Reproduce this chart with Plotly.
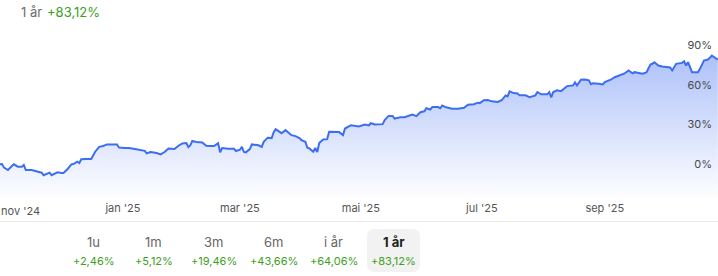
import plotly.graph_objects as go

# ---- data ----
dates = [
    "2024-10-31", "2024-11-01", "2024-11-02", "2024-11-04", "2024-11-06", "2024-11-07", "2024-11-09",
    "2024-11-11", "2024-11-12", "2024-11-13", "2024-11-16", "2024-11-18", "2024-11-21", "2024-11-22",
    "2024-11-24", "2024-11-25", "2024-11-26", "2024-11-27", "2024-11-29", "2024-12-01", "2024-12-02",
    "2024-12-04", "2024-12-06", "2024-12-07", "2024-12-09", "2024-12-10", "2024-12-11", "2024-12-13",
    "2024-12-16", "2024-12-18", "2024-12-20", "2024-12-22", "2024-12-24", "2024-12-29", "2024-12-30",
    "2025-01-02", "2025-01-04", "2025-01-07", "2025-01-09", "2025-01-12", "2025-01-13", "2025-01-15",
    "2025-01-18", "2025-01-20", "2025-01-22", "2025-01-24", "2025-01-27", "2025-01-28", "2025-01-29",
    "2025-01-31", "2025-02-02", "2025-02-03", "2025-02-04", "2025-02-05", "2025-02-07", "2025-02-10",
    "2025-02-12", "2025-02-14", "2025-02-16", "2025-02-18", "2025-02-19", "2025-02-20", "2025-02-23",
    "2025-02-26", "2025-02-27", "2025-03-01", "2025-03-02", "2025-03-03", "2025-03-04", "2025-03-06",
    "2025-03-07", "2025-03-10", "2025-03-12", "2025-03-13", "2025-03-15", "2025-03-17", "2025-03-18",
    "2025-03-19", "2025-03-21", "2025-03-22", "2025-03-24", "2025-03-26", "2025-03-27", "2025-03-29",
    "2025-03-31", "2025-04-01", "2025-04-03", "2025-04-04", "2025-04-05", "2025-04-07", "2025-04-08",
    "2025-04-09", "2025-04-10", "2025-04-12", "2025-04-14", "2025-04-15", "2025-04-18", "2025-04-20",
    "2025-04-22", "2025-04-23", "2025-04-26", "2025-04-28", "2025-04-30", "2025-05-03", "2025-05-05",
    "2025-05-06", "2025-05-08", "2025-05-12", "2025-05-13", "2025-05-15", "2025-05-17", "2025-05-18",
    "2025-05-21", "2025-05-23", "2025-05-26", "2025-05-27", "2025-05-29", "2025-05-31", "2025-06-02",
    "2025-06-03", "2025-06-05", "2025-06-06", "2025-06-09", "2025-06-10", "2025-06-11", "2025-06-13",
    "2025-06-16", "2025-06-19", "2025-06-22", "2025-06-24", "2025-06-27", "2025-06-29", "2025-06-30",
    "2025-07-02", "2025-07-04", "2025-07-06", "2025-07-09", "2025-07-11", "2025-07-13", "2025-07-14",
    "2025-07-15", "2025-07-17", "2025-07-19", "2025-07-20", "2025-07-23", "2025-07-25", "2025-07-28",
    "2025-07-29", "2025-07-31", "2025-08-03", "2025-08-04", "2025-08-05", "2025-08-06", "2025-08-08",
    "2025-08-10", "2025-08-12", "2025-08-13", "2025-08-16", "2025-08-17", "2025-08-18", "2025-08-20",
    "2025-08-22", "2025-08-24", "2025-08-25", "2025-08-26", "2025-08-29", "2025-08-31", "2025-09-01",
    "2025-09-04", "2025-09-06", "2025-09-09", "2025-09-11", "2025-09-13", "2025-09-15", "2025-09-16",
    "2025-09-19", "2025-09-20", "2025-09-22", "2025-09-24", "2025-09-25", "2025-09-26", "2025-09-28",
    "2025-09-30", "2025-10-04", "2025-10-05", "2025-10-07", "2025-10-09", "2025-10-10", "2025-10-11",
    "2025-10-12", "2025-10-13", "2025-10-15", "2025-10-18", "2025-10-19", "2025-10-21", "2025-10-23",
    "2025-10-24", "2025-10-25", "2025-10-27", "2025-10-28",
]
returns_pct = [
    0.0, 0.2, -2.5, -4.3, -1.3, 0.0, -1.8,
    -1.8, -0.5, -4.3, -4.3, -5.2, -6.3, -8.2,
    -7.3, -6.3, -8.2, -7.3, -6.0, -6.5, -6.5,
    -3.7, 0.0, 0.2, 2.0, 1.0, 3.8, 4.0,
    4.0, 9.5, 13.2, 13.8, 15.0, 15.0, 12.6,
    12.3, 12.3, 11.5, 10.8, 10.2, 8.3, 9.3,
    8.5, 7.5, 9.3, 12.0, 11.5, 13.0, 14.0,
    15.8, 16.0, 13.0, 14.5, 17.7, 16.8, 16.5,
    14.0, 13.8, 13.8, 16.0, 9.0, 12.3, 11.7,
    11.7, 10.0, 11.0, 13.2, 9.3, 9.0, 11.5,
    15.0, 14.5, 13.2, 17.0, 20.1, 19.8, 24.0,
    26.5, 24.3, 23.5, 25.8, 23.7, 22.0, 21.3,
    19.8, 18.3, 17.0, 12.5, 12.0, 9.5, 12.3,
    9.3, 16.0, 18.8, 19.0, 24.5, 24.5, 24.3,
    22.0, 27.0, 29.5, 29.0, 28.5, 30.0, 29.3,
    31.0, 30.0, 30.3, 33.3, 36.5, 36.5, 34.5,
    35.5, 35.5, 37.0, 37.5, 36.3, 39.3, 40.0,
    42.3, 41.3, 43.2, 43.2, 42.3, 44.3, 43.0,
    42.0, 42.0, 42.6, 45.0, 45.3, 46.5, 46.2,
    48.3, 48.5, 47.5, 47.0, 48.3, 52.0, 51.3,
    55.0, 53.7, 53.5, 52.0, 52.0, 50.7, 52.0,
    54.5, 52.8, 52.8, 54.5, 50.5, 54.5, 55.8,
    55.2, 58.0, 59.0, 59.5, 61.8, 59.5, 63.8,
    64.0, 63.3, 60.5, 61.2, 60.8, 60.3, 62.0,
    63.8, 65.7, 67.5, 68.5, 70.8, 68.7, 69.5,
    68.5, 68.3, 69.3, 75.3, 75.8, 77.0, 74.5,
    73.8, 73.0, 70.8, 75.8, 76.0, 76.5, 77.7,
    74.5, 77.0, 69.5, 69.5, 72.0, 78.3, 79.0,
    80.3, 82.0, 80.0, 79.0,
]

x_tick_vals = ["2025-01-01", "2025-03-01", "2025-05-01", "2025-07-01", "2025-09-01"]
x_tick_text = ["jan '25", "mar '25", "mai '25", "jul '25", "sep '25"]
first_tick_label = "nov '24"
y_tick_vals = [0, 30, 60, 90]
y_tick_text = ["0%", "30%", "60%", "90%"]

period_labels = ["1u", "1m", "3m", "6m", "i år", "1 år"]
period_returns = ["+2,46%", "+5,12%", "+19,46%", "+43,66%", "+64,06%", "+83,12%"]
header_period = "1 år"
header_return = "+83,12%"

# ---- styling ----
W, H = 718, 276
PLOT_TOP, PLOT_BOTTOM = 30, 200
Y_RANGE = [-26.9, 101.3]
X_RANGE = ["2024-10-31 00:00", "2025-10-28 02:24"]
LINE = "rgb(61,109,242)"
GREEN = "#3ca01d"
FONT = "Inter, 'Open Sans', Arial, sans-serif"


def py(p):
    """pixel y -> paper y"""
    return (PLOT_BOTTOM - p) / (PLOT_BOTTOM - PLOT_TOP)


def px(p):
    return p / W


fig = go.Figure()
fig.add_trace(go.Scatter(
    x=dates, y=[Y_RANGE[0]] * len(dates), mode="lines",
    line=dict(width=0), hoverinfo="skip", showlegend=False,
))
fig.add_trace(go.Scatter(
    x=dates, y=returns_pct, mode="lines",
    line=dict(color=LINE, width=2),
    fill="tonexty",
    fillgradient=dict(
        type="vertical",
        colorscale=[[0, "rgba(61,109,242,0)"], [1, "rgba(61,109,242,0.42)"]],
        start=Y_RANGE[0], stop=82,
    ),
    showlegend=False,
))

annotations = []
shapes = []

# header
annotations.append(dict(x=px(19), y=py(12), xref="paper", yref="paper", text=header_period,
                        showarrow=False, xanchor="left", yanchor="middle",
                        font=dict(family=FONT, size=13, color="#6b6b6b")))
annotations.append(dict(x=px(45), y=py(12), xref="paper", yref="paper", text=header_return,
                        showarrow=False, xanchor="left", yanchor="middle",
                        font=dict(family=FONT, size=13, color=GREEN)))

# first x label pinned to left edge
annotations.append(dict(x=0, y=py(211), xref="paper", yref="paper", text=first_tick_label,
                        showarrow=False, xanchor="left", yanchor="middle", xshift=-1,
                        font=dict(family=FONT, size=11, color="#555555")))

# separator
shapes.append(dict(type="line", xref="paper", yref="paper", x0=0, x1=1, y0=py(221.5), y1=py(221.5),
                   line=dict(color="#e9e9e9", width=1)))

# selected period background (rounded rect)
x0, x1, y0, y1, r = 367, 420, 229, 272, 8
path = (f"M {px(x0 + r)},{py(y0)} L {px(x1 - r)},{py(y0)} Q {px(x1)},{py(y0)} {px(x1)},{py(y0 + r)} "
        f"L {px(x1)},{py(y1 - r)} Q {px(x1)},{py(y1)} {px(x1 - r)},{py(y1)} "
        f"L {px(x0 + r)},{py(y1)} Q {px(x0)},{py(y1)} {px(x0)},{py(y1 - r)} "
        f"L {px(x0)},{py(y0 + r)} Q {px(x0)},{py(y0)} {px(x0 + r)},{py(y0)} Z")
shapes.append(dict(type="path", xref="paper", yref="paper", path=path,
                   fillcolor="#f2f2f2", line=dict(width=0), layer="below"))

centers = [93.5, 153.5, 213.5, 273.5, 333.5, 393.5]
for i, (lab, ret) in enumerate(zip(period_labels, period_returns)):
    sel = i == len(period_labels) - 1
    annotations.append(dict(x=px(centers[i]), y=py(242), xref="paper", yref="paper",
                            text=f"<b>{lab}</b>" if sel else lab, showarrow=False,
                            xanchor="center", yanchor="middle",
                            font=dict(family=FONT, size=13, color="#222222" if sel else "#666666")))
    annotations.append(dict(x=px(centers[i]), y=py(260.5), xref="paper", yref="paper",
                            text=ret, showarrow=False, xanchor="center", yanchor="middle",
                            font=dict(family=FONT, size=11, color=GREEN)))

fig.update_layout(
    width=W, height=H,
    margin=dict(l=0, r=0, t=PLOT_TOP, b=H - PLOT_BOTTOM, pad=0),
    paper_bgcolor="white", plot_bgcolor="white",
    font=dict(family=FONT, size=11, color="#555555"),
    xaxis=dict(type="date", range=X_RANGE, tickvals=x_tick_vals, ticktext=x_tick_text,
               showgrid=False, zeroline=False, showline=False, ticks="",
               tickfont=dict(family=FONT, size=11, color="#555555"), fixedrange=True),
    yaxis=dict(range=Y_RANGE, side="right", tickvals=y_tick_vals, ticktext=y_tick_text,
               ticklabelposition="inside", ticklabelstandoff=3,
               showgrid=False, zeroline=False, showline=False, ticks="",
               tickfont=dict(family=FONT, size=11, color="#4a4a4a"), fixedrange=True),
    annotations=annotations, shapes=shapes,
    showlegend=False, hovermode=False,
)

fig.write_html("out.html", config={"displayModeBar": False})
